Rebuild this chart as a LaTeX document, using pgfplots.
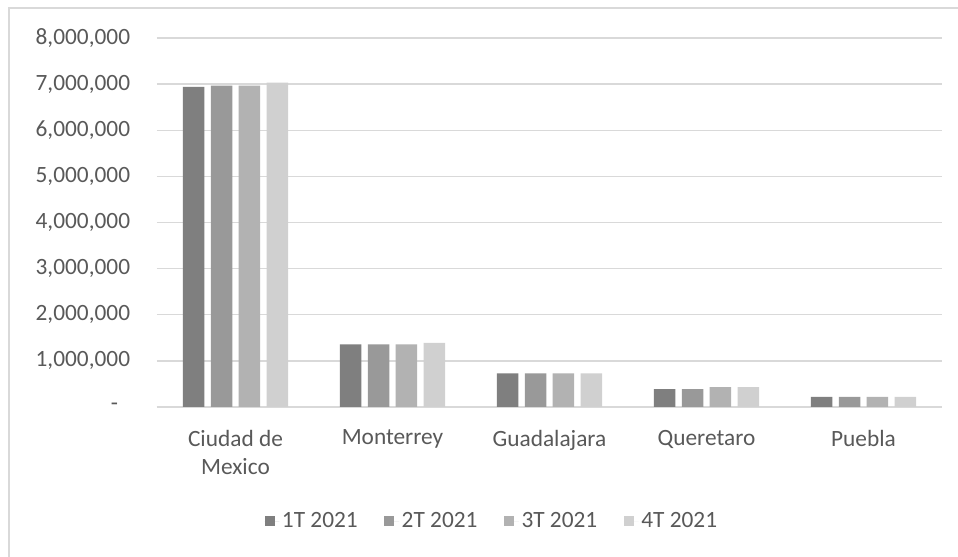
\documentclass[border=0pt]{standalone}
\usepackage{fontspec}
\setmainfont{Carlito}
\usepackage{pgfplots}
\pgfplotsset{compat=1.18}

\definecolor{txt}{HTML}{595959}
\definecolor{gridc}{HTML}{D9D9D9}
\definecolor{qa}{HTML}{7F7F7F}
\definecolor{qb}{HTML}{999999}
\definecolor{qc}{HTML}{B2B2B2}
\definecolor{qd}{HTML}{D0D0D0}

\begin{document}
\begin{tikzpicture}
  % page = 958 x 557 px, 1px = 0.75pt
  \useasboundingbox (0,0) rectangle (718.5pt,417.75pt);
  \fill[white] (0,0) rectangle (718.5pt,417.75pt);
  \begin{axis}[
    at={(117.75pt,112.5pt)}, anchor=south west,
    scale only axis, width=588.75pt, height=276.75pt,
    ybar, bar width=0.137,
    xmin=-0.5, xmax=4.5,
    ymin=0, ymax=8000000,
    scaled y ticks=false,
    axis x line*=bottom, axis y line*=left,
    x axis line style={gridc, line width=1pt, -},
    y axis line style={draw=none, -},
    xtick={0,1,2,3,4},
    xticklabels={{Ciudad de\\Mexico},Monterrey,Guadalajara,Queretaro,Puebla},
    xticklabel style={align=center, inner sep=0pt, yshift=-17pt,
      font=\fontsize{17.5}{21}\selectfont, text=txt},
    ytick={0,1000000,2000000,3000000,4000000,5000000,6000000,7000000,8000000},
    yticklabels={{-\kern9pt},{1,000,000},{2,000,000},{3,000,000},{4,000,000},
      {5,000,000},{6,000,000},{7,000,000},{8,000,000}},
    yticklabel style={inner sep=0pt, xshift=-20pt,
      font=\fontsize{17.5}{21}\selectfont, text=txt},
    ymajorgrids, grid style={gridc, line width=1pt},
    major tick length=0pt,
    legend columns=4,
    legend style={at={(0.427,-0.309)}, anchor=center, draw=none,
      font=\fontsize{17.5}{21}\selectfont, text=txt,
      /tikz/every even column/.append style={column sep=18pt}},
    legend image code/.code={\fill[#1] (0pt,-3.75pt) rectangle (7.5pt,3.75pt);
      \path (0pt,0pt) -- (11pt,0pt);},
  ]
    \addplot[fill=qa, draw=none, bar shift=-0.267]
      coordinates {(0,6940000) (1,1360000) (2,730000) (3,390000) (4,220000)};
    \addplot[fill=qb, draw=none, bar shift=-0.089]
      coordinates {(0,6970000) (1,1360000) (2,730000) (3,390000) (4,220000)};
    \addplot[fill=qc, draw=none, bar shift=0.089]
      coordinates {(0,6970000) (1,1360000) (2,730000) (3,430000) (4,220000)};
    \addplot[fill=qd, draw=none, bar shift=0.267]
      coordinates {(0,7030000) (1,1390000) (2,730000) (3,430000) (4,220000)};
    \legend{1T 2021,2T 2021,3T 2021,4T 2021}
  \end{axis}
  \draw[gridc, line width=1.5pt] (6.75pt,-10pt) -- (6.75pt,411.75pt) -- (730pt,411.75pt);
\end{tikzpicture}
\end{document}
